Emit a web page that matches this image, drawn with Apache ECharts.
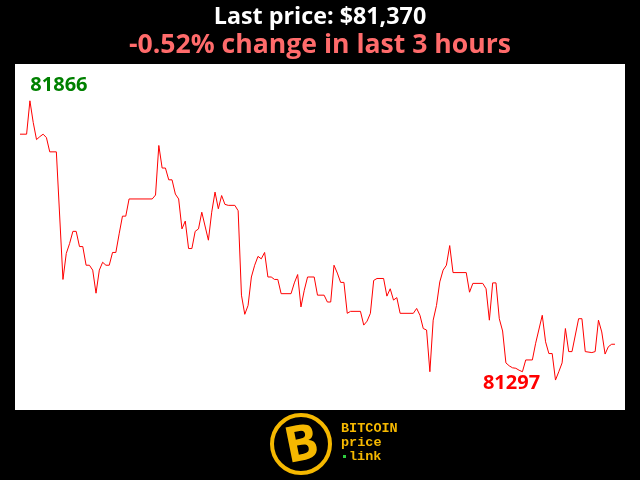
<!DOCTYPE html>
<html>
<head>
<meta charset="utf-8">
<script src="https://cdn.jsdelivr.net/npm/echarts@6/dist/echarts.min.js"></script>
<style>
html,body{margin:0;padding:0;background:#000;}
#chart{width:640px;height:480px;}
</style>
</head>
<body>
<div id="chart"></div>
<script>
// minute index (0..180 over the last 3 hours)
const minutes = [0,2,3,4,5,6,7,8,9,11,13,14,15,16,17,18,19,20,21,22,23,24,25,26,27,28,29,30,31,32,33,40,41,42,43,44,45,46,47,48,49,50,51,52,53,54,55,57,58,59,60,61,62,63,65,66,67,68,69,70,71,72,73,74,75,76,77,78,79,82,83,84,85,86,87,89,90,92,93,94,95,96,97,98,99,100,103,104,105,106,107,108,110,111,112,113,114,115,119,120,121,122,123,124,125,126,127,128,129,130,131,135,136,137,140,141,142,143,144,145,146,147,148,149,150,151,152,153,155,156,158,159,160,161,162,163,164,165,166,167,169,170,171,173,174,175,176,177,178,179,180];
const prices = [81798,81798,81866,81822,81787,81793,81798,81791,81762,81762,81502,81555,81575,81600,81600,81569,81569,81531,81531,81521,81474,81521,81537,81531,81531,81557,81557,81595,81631,81631,81666,81666,81674,81775,81729,81729,81705,81705,81676,81666,81605,81621,81565,81565,81600,81605,81639,81582,81639,81680,81646,81673,81655,81653,81653,81642,81470,81431,81449,81507,81531,81549,81544,81557,81507,81507,81502,81502,81473,81473,81495,81512,81446,81480,81507,81507,81470,81470,81456,81456,81531,81515,81496,81496,81433,81437,81437,81409,81417,81433,81500,81504,81504,81468,81483,81460,81465,81433,81433,81443,81429,81402,81399,81314,81419,81449,81497,81521,81531,81571,81516,81516,81476,81494,81494,81483,81419,81495,81495,81422,81397,81332,81326,81322,81321,81317,81314,81338,81338,81372,81429,81375,81351,81351,81297,81314,81332,81402,81355,81355,81422,81422,81355,81353,81355,81419,81395,81350,81365,81370,81370];
const titleText = 'Last price: $81,370';
const subtitleText = '-0.52% change in last 3 hours';

const data = minutes.map((m, i) => [m, prices[i]]);

const chart = echarts.init(document.getElementById('chart'), null, {renderer: 'canvas'});
const gold = '#f5b800';
chart.setOption({
  backgroundColor: '#000',
  animation: false,
  title: [
    {text: titleText, left: 'center', top: 1,
     textStyle: {color: '#fff', fontSize: 23.3, fontWeight: 'bold', fontFamily: 'Open Sans'}},
    {text: subtitleText, left: 'center', top: 26.5,
     textStyle: {color: '#ff6b6b', fontSize: 26.6, fontWeight: 'bold', fontFamily: 'Open Sans'}}
  ],
  grid: {left: 15, right: 15, top: 64, bottom: 70, show: true, backgroundColor: '#fff', borderWidth: 0},
  xAxis: {type: 'value', min: -1.51, max: 183.03, show: false},
  yAxis: {type: 'value', min: 81236, max: 81941, show: false},
  series: [{
    type: 'line', data: data, symbol: 'none',
    lineStyle: {color: '#ff0000', width: 1},
    markPoint: {
      symbol: 'circle', symbolSize: 0,
      label: {show: true, fontFamily: 'Open Sans', fontWeight: 'bold', fontSize: 20},
      data: [
        {type: 'max', label: {color: '#008000', offset: [29, -16]}},
        {type: 'min', label: {color: '#ff0000', offset: [-44, 3]}}
      ]
    }
  }],
  graphic: [
    {type: 'circle', shape: {cx: 301, cy: 444, r: 29}, style: {fill: '#000', stroke: gold, lineWidth: 4}},
    {type: 'text', x: 302, y: 446, rotation: 0.2,
     style: {text: 'B', fill: gold, font: 'bold 50px "Open Sans"', align: 'center', verticalAlign: 'middle'}},
    {type: 'text', x: 341, y: 429,
     style: {text: 'BITCOIN', fill: gold, font: 'bold 13.5px "Liberation Mono"', verticalAlign: 'middle'}},
    {type: 'text', x: 341, y: 443,
     style: {text: 'price', fill: gold, font: 'bold 13.5px "Liberation Mono"', verticalAlign: 'middle'}},
    {type: 'rect', shape: {x: 343, y: 455, width: 3, height: 3}, style: {fill: '#2ecc40'}},
    {type: 'text', x: 349, y: 457,
     style: {text: 'link', fill: gold, font: 'bold 13.5px "Liberation Mono"', verticalAlign: 'middle'}}
  ]
});
</script>
</body>
</html>
